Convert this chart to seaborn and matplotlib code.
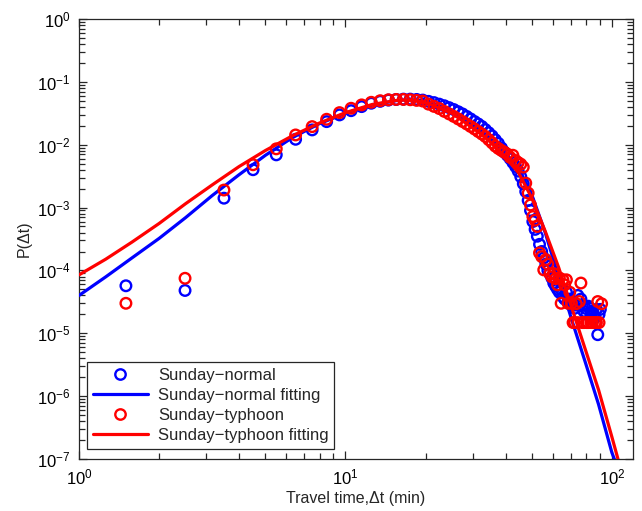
import numpy as np
import pandas as pd
import seaborn as sns
import matplotlib
matplotlib.use("Agg")
import matplotlib.pyplot as plt
from matplotlib.lines import Line2D
from matplotlib.ticker import FixedLocator, LogFormatterSciNotation, NullFormatter

# ---------------- data ----------------
time_bins = [1.5, 2.5, 3.5, 4.5, 5.5, 6.5, 7.5, 8.5, 9.5, 10.5,
             11.5, 12.5, 13.5, 14.5, 15.5, 16.5, 17.5, 18.5, 19.5, 20.5,
             21.5, 22.5, 23.5, 24.5, 25.5, 26.5, 27.5, 28.5, 29.5, 30.5,
             31.5, 32.5, 33.5, 34.5, 35.5, 36.5, 37.5, 38.5, 39.5, 40.5,
             41.5, 42.5, 43.5, 44.5, 45.5, 46.5, 47.5, 48.5, 49.5, 50.5,
             51.5, 52.5, 53.5, 54.5, 55.5, 56.5, 57.5, 58.5, 59.5, 60.5,
             61.5, 62.5, 63.5, 64.5, 65.5, 66.5, 67.5, 68.5, 69.5, 70.5,
             71.5, 72.5, 73.5, 74.5, 75.5, 76.5, 77.5, 78.5, 79.5, 80.5,
             81.5, 82.5, 83.5, 84.5, 85.5, 86.5, 87.5, 88.5, 89.5, 90.5,
             91.5]

normal_p = [5.7e-5, 4.8e-5, 1.41e-3, 4.0e-3, 6.9e-3, 0.0122, 0.0172, 0.0233, 0.0298, 0.0348,
            0.0404, 0.0457, 0.0490, 0.0513, 0.0525, 0.0531, 0.0531, 0.0525, 0.0513, 0.0490,
            0.0468, 0.0442, 0.0417, 0.0389, 0.0363, 0.0335, 0.0309, 0.0282, 0.0257, 0.0234,
            0.0214, 0.0195, 0.0174, 0.0155, 0.0138, 0.0120, 0.0105, 0.0089, 0.0076, 0.0068,
            0.0060, 0.0052, 0.0045, 0.0038, 0.0031, 0.0024, 0.0018, 0.0013, 9.0e-4, 6.0e-4,
            4.5e-4, 3.5e-4, 2.6e-4, 2.0e-4, 1.58e-4, 1.26e-4, 1.0e-4, 8.9e-5, 7.6e-5, 6.3e-5,
            5.6e-5, 5.0e-5, 4.5e-5, 5.0e-5, 3.8e-5, 3.5e-5, 4.5e-5, 3.2e-5, 3.5e-5, 2.8e-5,
            3.2e-5, 2.5e-5, 2.8e-5, 4.0e-5, 2.8e-5, 3.5e-5, 2.8e-5, 2.24e-5, 2.5e-5, 2.0e-5,
            2.7e-5, 2.5e-5, 2.0e-5, 2.24e-5, 2.0e-5, 1.78e-5, 2.4e-5, 9.5e-6, 2.0e-5, 2.4e-5,
            np.nan]

typhoon_p = [3.0e-5, 7.5e-5, 1.9e-3, 4.8e-3, 8.6e-3, 0.0143, 0.0194, 0.0254, 0.0324, 0.0380,
             0.0430, 0.0473, 0.0501, 0.0519, 0.0525, 0.0525, 0.0519, 0.0507, 0.0495, 0.0442,
             0.0407, 0.0376, 0.0339, 0.0309, 0.0282, 0.0257, 0.0234, 0.0214, 0.0195, 0.0178,
             0.0162, 0.0148, 0.0135, 0.0120, 0.0107, 0.0095, 0.0087, 0.0081, 0.0076, 0.0071,
             0.0063, 0.0068, 0.0056, 0.0052, 0.0049, 0.0044, 0.00245, 0.0017, 0.0011, 7.2e-4,
             6.3e-4, 5.0e-4, 1.9e-4, 1.66e-4, 1.02e-4, 1.48e-4, 1.26e-4, 8.9e-5, 7.9e-5, 8.9e-5,
             7.4e-5, 5.9e-5, 7.6e-5, 3.0e-5, 7.1e-5, 5.9e-5, 7.1e-5, 3.0e-5, 4.5e-5, 3.0e-5,
             1.48e-5, 1.48e-5, 2.95e-5, 1.48e-5, 3.2e-5, 6.3e-5, 1.48e-5, 1.48e-5, np.nan, 1.48e-5,
             1.48e-5, np.nan, 1.48e-5, 1.48e-5, np.nan, 1.48e-5, 1.48e-5, 3.2e-5, 1.48e-5, np.nan,
             2.95e-5]

fit_t = [1.0, 1.26, 1.58, 2.0, 2.51, 3.16, 3.98, 5.01, 6.31, 7.94,
         10.0, 12.6, 15.8, 17.8, 20.0, 25.1, 31.6, 35.5, 39.8, 44.7,
         50.1, 56.2, 63.1, 70.8, 79.4, 89.1, 100.0, 107.0]

normal_fit = [4.0e-5, 7.9e-5, 1.58e-4, 3.24e-4, 6.9e-4, 1.55e-3, 3.31e-3, 6.8e-3, 0.0129, 0.0214,
              0.0316, 0.0427, 0.0510, 0.0520, 0.0495, 0.0350, 0.0185, 0.0117, 0.0072, 0.0042,
              0.00158, 4.0e-4, 7.9e-5, 1.6e-5, 3.5e-6, 7.4e-7, 1.26e-7, 6.0e-8]

typhoon_fit = [8.5e-5, 1.51e-4, 2.82e-4, 5.6e-4, 1.15e-3, 2.29e-3, 4.47e-3, 8.1e-3, 0.0138, 0.0219,
               0.0324, 0.0437, 0.0513, 0.0513, 0.0468, 0.0316, 0.0158, 0.0105, 0.0063, 0.00355,
               0.00141, 4.2e-4, 1.12e-4, 2.5e-5, 5.6e-6, 1.26e-6, 2.24e-7, 7.9e-8]

labels = ["Sunday\u2212normal", "Sunday\u2212normal fitting",
          "Sunday\u2212typhoon", "Sunday\u2212typhoon fitting"]

x_decades = [1, 10, 100]
y_decades = [1e-7, 1e-6, 1e-5, 1e-4, 1e-3, 1e-2, 1e-1, 1]
minor_steps = [2, 3, 4, 5, 6, 7, 8, 9]

# ---------------- style ----------------
sns.set_theme(style="white")
plt.rcParams["font.family"] = ["Liberation Sans", "DejaVu Sans"]
plt.rcParams["mathtext.fontset"] = "custom"
plt.rcParams["mathtext.rm"] = "Liberation Sans"
plt.rcParams["mathtext.it"] = "Liberation Sans:italic"
plt.rcParams["mathtext.default"] = "regular"

BLUE = "#0000FF"
RED = "#FF0000"

fig = plt.figure(figsize=(6.42, 5.11), dpi=100)
ax = fig.add_axes([79 / 642, 52 / 511, 554 / 642, 440 / 511])

pts = pd.DataFrame({
    "t": time_bins * 2,
    "p": normal_p + typhoon_p,
    "series": [labels[0]] * len(time_bins) + [labels[2]] * len(time_bins),
}).dropna()
fits = pd.DataFrame({
    "t": fit_t * 2,
    "p": normal_fit + typhoon_fit,
    "series": [labels[1]] * len(fit_t) + [labels[3]] * len(fit_t),
})

ax.set_xscale("log")
ax.set_yscale("log")

MS = 58
MLW = 1.7
FLW = 2.3

sns.scatterplot(data=pts[pts.series == labels[0]], x="t", y="p", ax=ax,
                marker="o", s=MS, facecolor="none", edgecolor=BLUE,
                linewidth=MLW, legend=False, zorder=3)
sns.lineplot(data=fits[fits.series == labels[1]], x="t", y="p", ax=ax,
             color=BLUE, linewidth=FLW, legend=False, zorder=4, sort=True,
             estimator=None)
sns.scatterplot(data=pts[pts.series == labels[2]], x="t", y="p", ax=ax,
                marker="o", s=MS, facecolor="none", edgecolor=RED,
                linewidth=MLW, legend=False, zorder=5)
sns.lineplot(data=fits[fits.series == labels[3]], x="t", y="p", ax=ax,
             color=RED, linewidth=FLW, legend=False, zorder=6, sort=True,
             estimator=None)

ax.set_xlim(1, 120)
ax.set_ylim(1e-7, 1)

x_minor = [m * d for d in x_decades for m in minor_steps if m * d <= 120]
y_minor = [m * d for d in y_decades[:-1] for m in minor_steps]
ax.xaxis.set_major_locator(FixedLocator(x_decades))
ax.yaxis.set_major_locator(FixedLocator(y_decades))
ax.xaxis.set_minor_locator(FixedLocator(x_minor))
ax.yaxis.set_minor_locator(FixedLocator(y_minor))
ax.xaxis.set_major_formatter(LogFormatterSciNotation())
ax.yaxis.set_major_formatter(LogFormatterSciNotation())
ax.xaxis.set_minor_formatter(NullFormatter())
ax.yaxis.set_minor_formatter(NullFormatter())

ax.tick_params(which="both", direction="in", top=True, right=True,
               bottom=True, left=True, color="#262626", width=0.9)
ax.tick_params(which="major", length=6, labelsize=12, colors="#262626",
               labelcolor="#000000", pad=6)
ax.tick_params(which="minor", length=4)
for sp in ax.spines.values():
    sp.set_color("#262626")
    sp.set_linewidth(0.9)

ax.set_xlabel("Travel time,\u0394t (min)", fontsize=11.5, labelpad=3)
ax.set_ylabel("P(\u0394t)", fontsize=11.5, labelpad=4)

handles = [
    Line2D([], [], linestyle="none", marker="o", markersize=7.5,
           markerfacecolor="none", markeredgecolor=BLUE, markeredgewidth=MLW),
    Line2D([], [], color=BLUE, linewidth=FLW),
    Line2D([], [], linestyle="none", marker="o", markersize=7.5,
           markerfacecolor="none", markeredgecolor=RED, markeredgewidth=MLW),
    Line2D([], [], color=RED, linewidth=FLW),
]
leg = ax.legend(handles, labels, loc="lower left",
                bbox_to_anchor=(8 / 554, 10 / 440), borderaxespad=0,
                fontsize=12, frameon=True, fancybox=False, framealpha=1,
                edgecolor="#262626", handlelength=3.3, handletextpad=0.6,
                labelspacing=0.3, borderpad=0.35)
leg.get_frame().set_linewidth(0.9)

fig.savefig("out.png", dpi=100)
